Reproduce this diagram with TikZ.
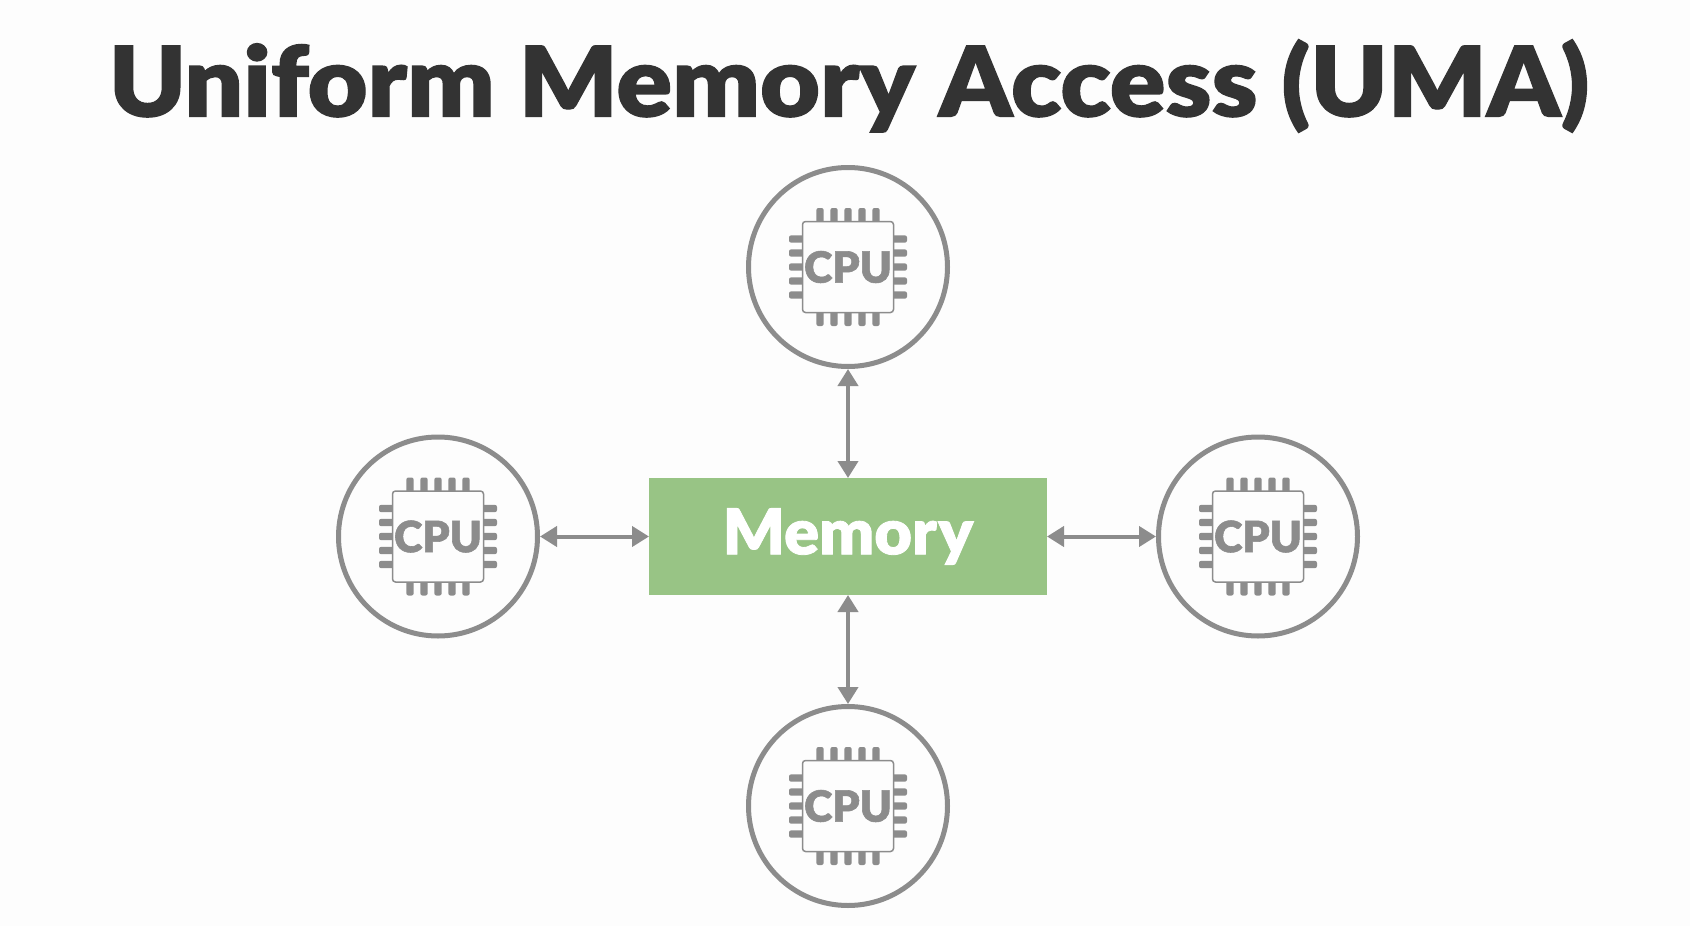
\documentclass[tikz,border=0pt]{standalone}
\usepackage{fontspec}
\setmainfont{Lato}[BoldFont=* Black,BoldFeatures={FakeBold=1.3}]
\usetikzlibrary{arrows.meta}
\definecolor{bgc}{HTML}{FDFDFD}
\definecolor{ink}{HTML}{333333}
\definecolor{gr}{HTML}{8C8C8C}
\definecolor{grn}{HTML}{98C485}
\tikzset{
  x=1pt,y=-1pt,
  cpunode/.style={circle,draw=gr,line width=5pt,minimum size=199pt,inner sep=0pt,fill=bgc},
  chipbody/.style={rectangle,draw=gr,line width=1.5pt,rounded corners=3pt,minimum size=91pt,inner sep=0pt,fill=bgc,text=gr,font=\fontsize{43}{43}\selectfont\bfseries},
  pin/.style={fill=gr,rounded corners=2pt},
  link/.style={gr,line width=4pt,{Triangle[length=17pt,width=20pt]}-{Triangle[length=17pt,width=20pt]},shorten <=0pt,shorten >=0pt},
}
\begin{document}
\begin{tikzpicture}
\useasboundingbox (0,0) rectangle (1690,926);
\fill[bgc] (0,0) rectangle (1690,926);
\node[text=ink,inner sep=0pt,anchor=center,font=\fontsize{97}{97}\selectfont\bfseries] (title) at (849,86) {\scalebox{1.065}[1]{Uniform Memory Access (UMA)}};
\node[fill=grn,minimum width=398pt,minimum height=117pt,inner sep=0pt,outer sep=0pt,text=white,font=\fontsize{63}{63}\selectfont\bfseries] (mem) at (848,536.5) {\raisebox{-2pt}{\scalebox{1.03}[1]{Memor\kern1.5pt y}}};
\foreach \n/\cx/\cy in {top/848/267,left/438/536.5,right/1258/536.5,bottom/848/806}{
  \node[cpunode] (cpu\n) at (\cx,\cy) {};
  \foreach \k in {-2,-1,0,1,2}{
    \fill[pin] ({\cx+\k*14-3.6},{\cy-59}) rectangle ({\cx+\k*14+3.6},{\cy+59});
    \fill[pin] ({\cx-59},{\cy+\k*14-3.6}) rectangle ({\cx+59},{\cy+\k*14+3.6});
  }
  \node[chipbody] (chip\n) at (\cx,\cy) {\raisebox{-3pt}{CPU}};
}
\draw[link] (cputop) -- (mem);
\draw[link] (cpubottom) -- (mem);
\draw[link] (cpuleft) -- (mem);
\draw[link] (cpuright) -- (mem);
\end{tikzpicture}
\end{document}
